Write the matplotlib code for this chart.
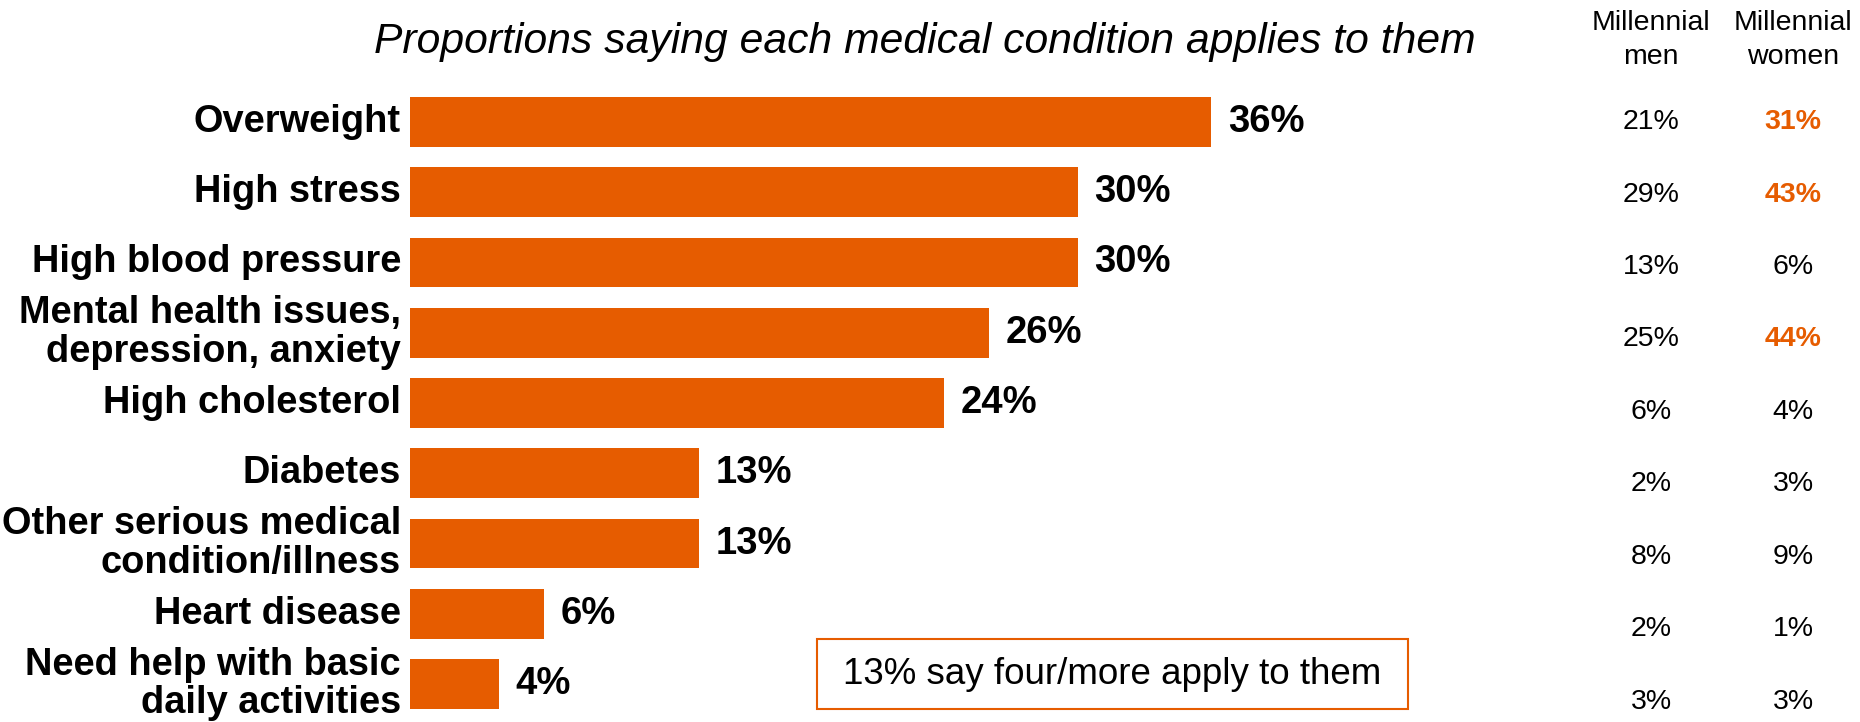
import matplotlib
matplotlib.use("Agg")
import matplotlib.pyplot as plt

plt.rcParams['font.family'] = ['Liberation Sans', 'DejaVu Sans']

categories = ["Overweight", "High stress", "High blood pressure",
              "Mental health issues,\ndepression, anxiety", "High cholesterol",
              "Diabetes", "Other serious medical\ncondition/illness",
              "Heart disease", "Need help with basic\ndaily activities"]
overall = [36, 30, 30, 26, 24, 13, 13, 6, 4]
men = [21, 29, 13, 25, 6, 2, 8, 2, 3]
women = [31, 43, 6, 44, 4, 3, 9, 1, 3]
women_highlight = [True, True, False, True, False, False, False, False, False]

title = "Proportions saying each medical condition applies to them"
col_headers = ["Millennial\nmen", "Millennial\nwomen"]
note = "13% say four/more apply to them"

ORANGE = "#E65C00"
W, H = 1860, 722
fig = plt.figure(figsize=(W / 100, H / 100), dpi=100)

# main bar axes
x0 = 410
px_per = 22.25
row0 = 122
row_step = 70.25
n = len(categories)
top_px = row0 - row_step * 0.5
bot_px = row0 + row_step * (n - 1 + 0.5)
ax = fig.add_axes([x0 / W, 1 - bot_px / H, 45 * px_per / W, (bot_px - top_px) / H])
ax.set_xlim(0, 45)
ax.set_ylim(n - 0.5, -0.5)
ys = list(range(n))
ax.barh(ys, overall, height=0.71, color=ORANGE)
ax.axis('off')
for y, v, c in zip(ys, overall, categories):
    ax.annotate(f"{v}%", (v, y), xytext=(12, 0), textcoords='offset points',
                ha='left', va='center', fontsize=27.5, fontweight='bold', color='black')
    ax.annotate(c, (0, y), xytext=(-6.5, 0), textcoords='offset points',
                ha='right', va='center', multialignment='right', fontsize=27.4,
                fontweight='bold', color='black', linespacing=1.09,
                annotation_clip=False)

# title
fig.text(925 / W, 1 - 42 / H, title, ha='center', va='center', fontsize=30.7,
         style='italic', color='black')

# right-hand table
tab_row0 = 122
tab_step = 72.5
ax2 = fig.add_axes([0, 0, 1, 1])
ax2.set_xlim(0, 1)
ax2.set_ylim((H - tab_row0) / tab_step, -tab_row0 / tab_step)
ax2.axis('off')
men_x = 1651 / W
women_x = 1793 / W
for i, (m, w, hl) in enumerate(zip(men, women, women_highlight)):
    ax2.text(men_x, i, f"{m}%", ha='center', va='center', fontsize=20.5, color='black')
    ax2.text(women_x, i, f"{w}%", ha='center', va='center', fontsize=20.5,
             color=ORANGE if hl else 'black', fontweight='bold' if hl else 'normal')
for xh, hdr in zip([men_x, women_x], col_headers):
    fig.text(xh, 1 - 40 / H, hdr, ha='center', va='center', fontsize=20.5,
             color='black', linespacing=1.45)

# note box
fig.text(1112 / W, 1 - 674 / H, note, ha='center', va='center', fontsize=26.5,
         color='black')
box = plt.Rectangle((817 / W, 1 - 709 / H), (1408 - 817) / W, 70 / H,
                    transform=fig.transFigure, fill=False, edgecolor=ORANGE,
                    linewidth=1.5)
fig.add_artist(box)

fig.savefig("out.png", dpi=100)
